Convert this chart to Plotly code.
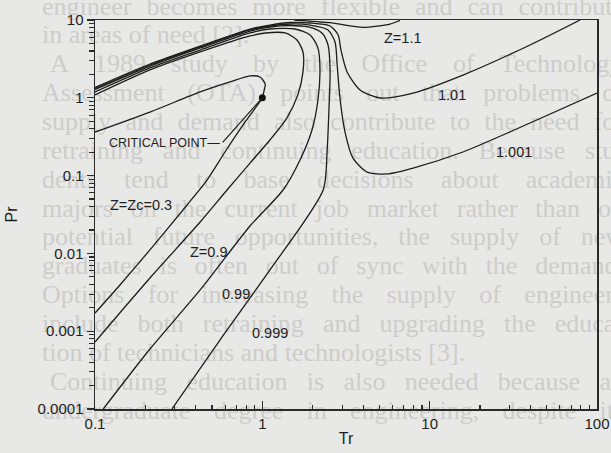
import numpy as np
import plotly.graph_objects as go

# ---------------- chart data (Tr, Pr) ----------------
ZC_TR = [0.100, 0.213, 0.425, 0.641, 0.844, 0.968, 1.04, 1.02, 1.00,
         0.789, 0.598, 0.467, 0.355, 0.213, 0.141, 0.100]
ZC_PR = [0.363, 0.656, 1.19, 1.60, 1.91, 1.85, 1.50, 1.19, 1.00,
         0.489, 0.201, 0.0877, 0.0419, 0.0111, 0.00393, 0.00171]

Z09_TR = [0.100, 0.213, 0.425, 0.615, 0.844, 1.11, 1.40, 1.63, 1.75, 1.75,
          1.61, 1.37, 1.04, 0.844, 0.425, 0.213, 0.100]
Z09_PR = [0.000727, 0.00483, 0.0253, 0.0653, 0.145, 0.287, 0.549, 1.09, 2.15, 3.88,
          5.53, 6.81, 6.81, 6.23, 3.88, 2.28, 1.09]

Z099_TR = [0.112, 0.213, 0.425, 0.844, 1.33, 1.68, 1.98, 2.15, 2.21, 2.15,
           1.93, 1.57, 1.11, 0.844, 0.425, 0.213, 0.100]
Z099_PR = [0.0001, 0.00059, 0.00339, 0.0225, 0.0653, 0.159, 0.386, 0.937, 2.28, 4.37,
           6.42, 7.66, 7.66, 6.81, 4.11, 2.42, 1.19]

Z0999_TR = [0.288, 0.558, 1.11, 2.31, 2.44, 2.50, 2.54, 2.47, 2.27, 1.88,
            1.47, 1.11, 0.844, 0.425, 0.213, 0.100]
Z0999_PR = [0.0001, 0.00077, 0.00612, 0.0653, 0.213, 0.697, 2.28, 4.77, 6.81, 8.13,
            8.50, 8.13, 7.22, 4.37, 2.56, 1.28]

Z1001_TR = [100, 39.8, 15.8, 7.96, 5.56, 4.23, 3.48, 3.12, 2.91, 2.80, 2.72,
            2.47, 1.93, 1.47, 1.11, 0.844, 0.425, 0.213, 0.100]
Z1001_PR = [1.15, 0.474, 0.201, 0.125, 0.105, 0.111, 0.168, 0.363, 0.994, 2.64, 5.21,
            7.44, 8.62, 8.88, 8.37, 7.44, 4.50, 2.64, 1.32]

Z101_TR = [79.3, 39.8, 15.8, 7.96, 5.06, 3.84, 3.21, 2.95, 2.84, 2.54, 1.93,
           1.47, 1.11, 0.844, 0.425, 0.213, 0.100]
Z101_PR = [10.0, 4.77, 1.96, 1.15, 0.994, 1.26, 2.15, 4.11, 6.42, 8.37, 9.15,
           9.29, 8.62, 7.66, 4.63, 2.72, 1.36]

Z11_TR = [1.55, 2.54, 4.00, 5.80, 6.65]
Z11_PR = [10.0, 9.23, 8.06, 8.88, 9.85]

CRIT_TR, CRIT_PR = 1.0, 1.0

CURVES = [
    (ZC_TR, ZC_PR), (Z09_TR, Z09_PR), (Z099_TR, Z099_PR), (Z0999_TR, Z0999_PR),
    (Z1001_TR, Z1001_PR), (Z101_TR, Z101_PR), (Z11_TR, Z11_PR),
]

# curve labels: (text, Tr, Pr)
LABELS = [
    ("Z=Zc=0.3", 0.188, 0.042),
    ("Z=0.9", 0.48, 0.0104),
    ("0.99", 0.70, 0.0030),
    ("0.999", 1.11, 0.00095),
    ("Z=1.1", 6.84, 5.9),
    ("1.01", 13.6, 1.09),
    ("1.001", 31.9, 0.20),
]
CP_LABEL = ("CRITICAL POINT\u2014", 0.574, 0.262)

X_TICKS = [0.1, 1, 10, 100]
X_TICKTEXT = ["0.1", "1", "10", "100"]
Y_TICKS = [0.0001, 0.001, 0.01, 0.1, 1, 10]
Y_TICKTEXT = ["0.0001", "0.001", "0.01", "0.1", "1", "10"]

# faint text of the page showing through the scan: (line, indented, justified)
BG_TEXT = [
    ("engineer becomes more flexible and can contribute", False, True),
    ("in areas of need [2].", False, False),
    ("A 1989 study by the Office of Technology", True, True),
    ("Assessment (OTA) points out that problems of", False, True),
    ("supply and demand also contribute to the need for", False, True),
    ("retraining and continuing education. Because stu-", False, True),
    ("dents tend to base decisions about academic", False, True),
    ("majors on the current job market rather than on", False, True),
    ("potential future opportunities, the supply of new", False, True),
    ("graduates is often out of sync with the demand.", False, True),
    ("Options for increasing the supply of engineers", False, True),
    ("include both retraining and upgrading the educa-", False, True),
    ("tion of technicians and technologists [3].", False, False),
    ("Continuing education is also needed because an", True, True),
    ("undergraduate degree in engineering, despite its", False, True),
]

W, H = 611, 453
PL, PR_, PT, PB = 95, 597, 20, 409
LINE_COLOR = "#1c1c1c"
PAPER = "#e8e8e6"

# approximate serif glyph widths (em) used to justify the page text
_SERIF = dict(zip("abcdefghijklmnopqrstuvwxyz",
                  [.444, .5, .444, .5, .444, .333, .5, .5, .278, .278, .5, .278, .778,
                   .5, .5, .5, .5, .333, .389, .278, .5, .5, .722, .5, .5, .444]))
_SERIF.update(zip("ABCDEFGHIJKLMNOPQRSTUVWXYZ",
                  [.722, .667, .667, .722, .611, .556, .722, .722, .333, .389, .722, .611,
                   .889, .722, .722, .556, .722, .667, .556, .611, .722, .722, .944, .722,
                   .722, .611]))
_SERIF.update({" ": .25, ".": .25, ",": .25, "-": .333, "(": .333, ")": .333,
               "[": .333, "]": .333})


def word_width(word, size):
    return sum(_SERIF.get(c, .5) for c in word) * size


BG_SIZE, BG_TOP, BG_STEP, BG_LEFT, BG_RIGHT, BG_INDENT = 26, 8, 28.86, 42, 624, 8

bg_x, bg_y, bg_t = [], [], []
for i, (line, indent, justify) in enumerate(BG_TEXT):
    words = line.split(" ")
    left = BG_LEFT + (BG_INDENT if indent else 0)
    widths = [word_width(w, BG_SIZE) for w in words]
    if justify and len(words) > 1:
        gap = (BG_RIGHT - left - sum(widths)) / (len(words) - 1)
    else:
        gap = _SERIF[" "] * BG_SIZE
    x = left
    for w, wd in zip(words, widths):
        bg_x.append(x)
        bg_y.append(BG_TOP + BG_STEP * i)
        bg_t.append(w)
        x += wd + gap

fig = go.Figure()

# background page text (drawn first, under the chart)
fig.add_trace(go.Scatter(
    x=bg_x, y=bg_y, text=bg_t, mode="text", textposition="middle right",
    textfont=dict(family="Liberation Serif", size=BG_SIZE, color="#cdcdcb"),
    hoverinfo="skip", showlegend=False, xaxis="x", yaxis="y", cliponaxis=True,
))

for tr, pr in CURVES:
    fig.add_trace(go.Scatter(
        x=tr, y=pr, mode="lines",
        line=dict(color=LINE_COLOR, width=1.3, shape="spline", smoothing=0.7),
        hoverinfo="skip", showlegend=False, xaxis="x2", yaxis="y2",
    ))

fig.add_trace(go.Scatter(
    x=[CRIT_TR], y=[CRIT_PR], mode="markers",
    marker=dict(color="#111", size=7), showlegend=False,
    xaxis="x2", yaxis="y2", hoverinfo="skip",
))

annotations = []
lab_font = dict(family="Liberation Sans", size=14.5, color="#1e1e1e")
for text, tr, pr in LABELS:
    annotations.append(dict(
        text=text, x=np.log10(tr), y=np.log10(pr), xref="x2", yref="y2",
        showarrow=False, font=lab_font, xanchor="center", yanchor="middle",
    ))
annotations.append(dict(
    text=CP_LABEL[0], x=np.log10(CP_LABEL[1]), y=np.log10(CP_LABEL[2]),
    xref="x2", yref="y2", showarrow=False,
    font=dict(family="Liberation Sans", size=12.5, color="#1e1e1e"),
    xanchor="right", yanchor="middle",
))
annotations.append(dict(
    text="", x=np.log10(CRIT_TR), y=np.log10(CRIT_PR), xref="x2", yref="y2",
    showarrow=True, arrowhead=0, arrowwidth=1.2, arrowcolor=LINE_COLOR,
    ax=-41, ay=46, standoff=0,
))

fig.update_layout(
    width=W, height=H,
    margin=dict(l=0, r=0, t=0, b=0, autoexpand=False),
    paper_bgcolor=PAPER, plot_bgcolor="rgba(0,0,0,0)",
    showlegend=False,
    xaxis=dict(range=[0, W], domain=[0, 1], visible=False, fixedrange=True,
               automargin=False),
    yaxis=dict(range=[H, 0], domain=[0, 1], visible=False, fixedrange=True,
               automargin=False),
    xaxis2=dict(
        type="log", range=[-1, 2], domain=[PL / W, PR_ / W], anchor="y2",
        automargin=False,
        showline=True, mirror=True, linecolor="#2a2a2a", linewidth=1.5,
        ticks="inside", ticklen=8, tickwidth=1.3, tickcolor="#2a2a2a",
        tickmode="array", tickvals=X_TICKS, ticktext=X_TICKTEXT,
        minor=dict(ticks="inside", ticklen=4, tickwidth=1.1, tickcolor="#2a2a2a",
                   tickmode="array",
                   tickvals=[m * d for d in (0.1, 1, 10) for m in range(2, 10)]),
        tickfont=dict(family="Liberation Sans", size=15, color="#1e1e1e"),
        showgrid=False, zeroline=False,
        title=dict(text="Tr", font=dict(family="Liberation Sans", size=16, color="#1e1e1e"),
                   standoff=2),
    ),
    yaxis2=dict(
        type="log", range=[-4, 1], domain=[1 - PB / H, 1 - PT / H], anchor="x2",
        automargin=False,
        showline=True, mirror=True, linecolor="#2a2a2a", linewidth=1.5,
        ticks="outside", ticklen=7, tickwidth=1.3, tickcolor="#2a2a2a",
        tickmode="array", tickvals=Y_TICKS, ticktext=Y_TICKTEXT,
        minor=dict(ticks="outside", ticklen=5, tickwidth=1.1, tickcolor="#2a2a2a",
                   tickmode="array",
                   tickvals=[m * d for d in (0.0001, 0.001, 0.01, 0.1, 1) for m in range(2, 10)]),
        tickfont=dict(family="Liberation Sans", size=15, color="#1e1e1e"),
        showgrid=False, zeroline=False,
        title=dict(text="Pr", font=dict(family="Liberation Sans", size=16, color="#1e1e1e"),
                   standoff=16),
    ),
    annotations=annotations,
)

fig.write_html("out.html", config={"displayModeBar": False, "staticPlot": True},
               post_script="document.body.style.margin='0px';"
                           "document.body.style.overflow='hidden';")
